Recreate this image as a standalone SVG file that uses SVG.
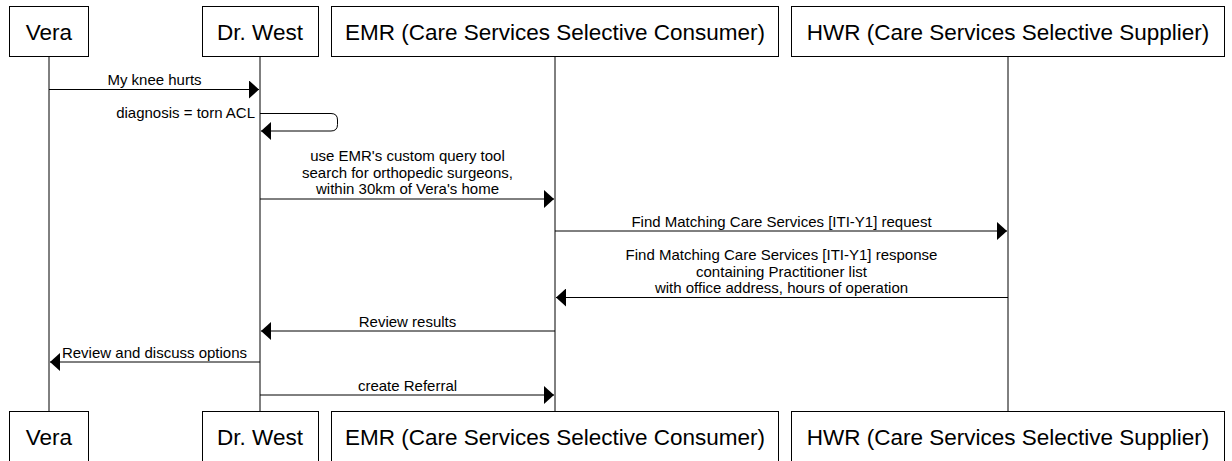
<svg xmlns="http://www.w3.org/2000/svg" width="1232" height="461" viewBox="0 0 1232 461">
<defs>
<style>
.box{fill:#fff;stroke:#000;stroke-width:1}
.life{stroke:#000;stroke-width:1;fill:none}
.msg{stroke:#000;stroke-width:1;fill:none}
.pt{font-family:"Liberation Sans",Arial,sans-serif;font-size:22.5px;fill:#000;text-anchor:middle}
.mt{font-family:"Liberation Sans",Arial,sans-serif;font-size:15px;fill:#000;text-anchor:middle}
</style>
<marker id="ah" markerUnits="userSpaceOnUse" markerWidth="10" markerHeight="18" refX="10" refY="9" orient="auto">
<path d="M0,0 L10,9 L0,18 z" fill="#000"/>
</marker>
</defs>
<rect width="1232" height="461" fill="#fff"/>
<g id="lifelines">
<line class="life" x1="49" y1="57" x2="49" y2="411"/>
<line class="life" x1="260" y1="57" x2="260" y2="411"/>
<line class="life" x1="555" y1="57" x2="555" y2="411"/>
<line class="life" x1="1008" y1="57" x2="1008" y2="411"/>
</g>
<g id="vera">
<rect class="box" x="9.5" y="6.5" width="79" height="50"/>
<text class="pt" x="49" y="40">Vera</text>
<rect class="box" x="9.5" y="411.5" width="79" height="50"/>
<text class="pt" x="49" y="445">Vera</text>
</g>
<g id="drwest">
<rect class="box" x="202.5" y="6.5" width="116" height="50"/>
<text class="pt" x="260" y="40">Dr. West</text>
<rect class="box" x="202.5" y="411.5" width="116" height="50"/>
<text class="pt" x="260" y="445">Dr. West</text>
</g>
<g id="emr">
<rect class="box" x="331.5" y="6.5" width="447" height="50"/>
<text class="pt" x="555" y="40">EMR (Care Services Selective Consumer)</text>
<rect class="box" x="331.5" y="411.5" width="447" height="50"/>
<text class="pt" x="555" y="445">EMR (Care Services Selective Consumer)</text>
</g>
<g id="hwr">
<rect class="box" x="791.5" y="6.5" width="433" height="50"/>
<text class="pt" x="1008" y="40">HWR (Care Services Selective Supplier)</text>
<rect class="box" x="791.5" y="411.5" width="433" height="50"/>
<text class="pt" x="1008" y="445">HWR (Care Services Selective Supplier)</text>
</g>
<g id="connectors">
<line class="msg" x1="49" y1="89.5" x2="259" y2="89.5" marker-end="url(#ah)"/>
<text class="mt" x="154.5" y="85">My knee hurts</text>
<path class="msg" d="M260,113.5 H331 Q337.5,113.5 337.5,120 V124.5 Q337.5,131 331,131 H261" marker-end="url(#ah)"/>
<text class="mt" x="255" y="118" text-anchor="end" style="text-anchor:end">diagnosis = torn ACL</text>
<line class="msg" x1="260" y1="199" x2="554" y2="199" marker-end="url(#ah)"/>
<text class="mt" x="407.5" y="161">use EMR's custom query tool</text>
<text class="mt" x="407.5" y="177.5">search for orthopedic surgeons,</text>
<text class="mt" x="407.5" y="194">within 30km of Vera's home</text>
<line class="msg" x1="555" y1="231" x2="1007" y2="231" marker-end="url(#ah)"/>
<text class="mt" x="781.5" y="226.5">Find Matching Care Services [ITI-Y1] request</text>
<line class="msg" x1="1008" y1="297.5" x2="556" y2="297.5" marker-end="url(#ah)"/>
<text class="mt" x="781.5" y="260">Find Matching Care Services [ITI-Y1] response</text>
<text class="mt" x="781.5" y="276.5">containing Practitioner list</text>
<text class="mt" x="781.5" y="293">with office address, hours of operation</text>
<line class="msg" x1="555" y1="331" x2="261" y2="331" marker-end="url(#ah)"/>
<text class="mt" x="407.5" y="326.5">Review results</text>
<line class="msg" x1="260" y1="362" x2="50" y2="362" marker-end="url(#ah)"/>
<text class="mt" x="154.5" y="357.5">Review and discuss options</text>
<line class="msg" x1="260" y1="395" x2="554" y2="395" marker-end="url(#ah)"/>
<text class="mt" x="407.5" y="390.5">create Referral</text>
</g>
</svg>
